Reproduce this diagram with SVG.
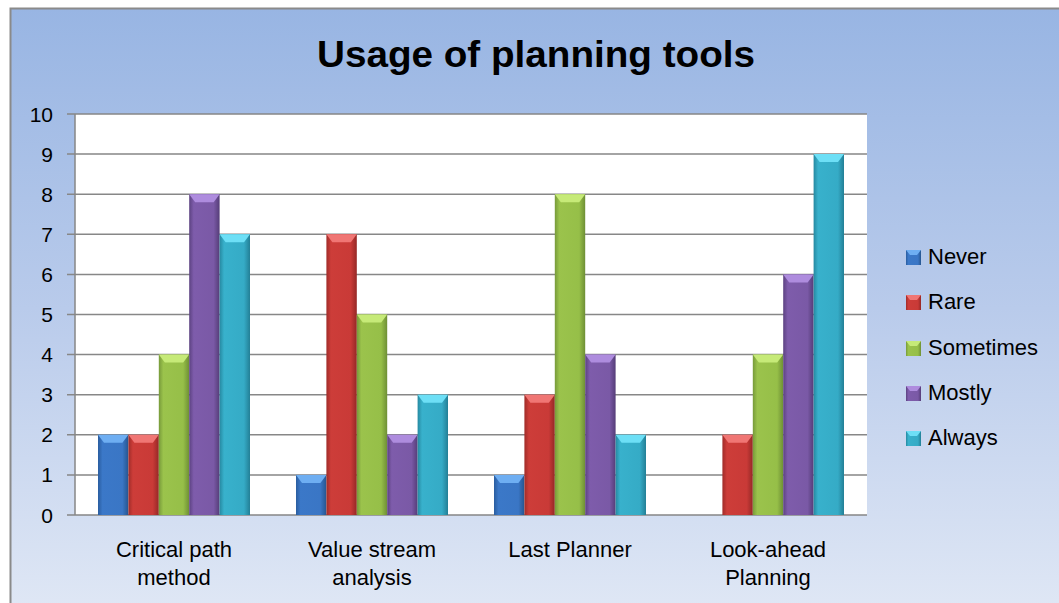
<svg xmlns="http://www.w3.org/2000/svg" width="1059" height="603" viewBox="0 0 1059 603">
<defs>
<linearGradient id="bg" x1="0" y1="0" x2="0" y2="1">
<stop offset="0" stop-color="#98b5e3"/><stop offset="0.5" stop-color="#b9cbeb"/><stop offset="1" stop-color="#dfe7f5"/>
</linearGradient>
<linearGradient id="gB" x1="0" y1="0" x2="1" y2="0"><stop offset="0" stop-color="#2a5d9f"/><stop offset="0.15" stop-color="#3b78c8"/><stop offset="0.8" stop-color="#3a76c5"/><stop offset="1" stop-color="#26558f"/></linearGradient>
<linearGradient id="gR" x1="0" y1="0" x2="1" y2="0"><stop offset="0" stop-color="#a02c29"/><stop offset="0.15" stop-color="#cd3d39"/><stop offset="0.8" stop-color="#c93a37"/><stop offset="1" stop-color="#952826"/></linearGradient>
<linearGradient id="gG" x1="0" y1="0" x2="1" y2="0"><stop offset="0" stop-color="#779a3a"/><stop offset="0.15" stop-color="#9bc34c"/><stop offset="0.8" stop-color="#96bf48"/><stop offset="1" stop-color="#6e8f35"/></linearGradient>
<linearGradient id="gP" x1="0" y1="0" x2="1" y2="0"><stop offset="0" stop-color="#5c4281"/><stop offset="0.15" stop-color="#7e5cab"/><stop offset="0.8" stop-color="#7a59a6"/><stop offset="1" stop-color="#553d78"/></linearGradient>
<linearGradient id="gC" x1="0" y1="0" x2="1" y2="0"><stop offset="0" stop-color="#2689a1"/><stop offset="0.15" stop-color="#38b1cc"/><stop offset="0.8" stop-color="#35abc6"/><stop offset="1" stop-color="#237f96"/></linearGradient>
<style>
.grid{stroke:#878787;stroke-width:1.5;fill:none}
.ax{font-family:"Liberation Sans",Arial,sans-serif;font-size:21px;fill:#000;text-anchor:end}
.cat{font-family:"Liberation Sans",Arial,sans-serif;font-size:22px;fill:#000;text-anchor:middle}
.leg{font-family:"Liberation Sans",Arial,sans-serif;font-size:22px;fill:#000}
.title{font-family:"Liberation Sans",Arial,sans-serif;font-size:37px;font-weight:bold;fill:#000;text-anchor:middle}
.b{fill:url(#gB)} .r{fill:url(#gR)} .g{fill:url(#gG)} .p{fill:url(#gP)} .c{fill:url(#gC)}
.tb{fill:#6eaef2} .tr{fill:#f07674} .tg{fill:#c6ea78} .tp{fill:#ae8cde} .tc{fill:#6ddff6}
</style>
</defs>
<rect x="0" y="0" width="1059" height="603" fill="#ffffff"/>
<rect x="10.5" y="8.5" width="1050" height="600" fill="url(#bg)" stroke="#8a8a8a" stroke-width="2"/>
<g id="title"><text class="title" x="536" y="67" textLength="438" lengthAdjust="spacingAndGlyphs">Usage of planning tools</text></g>
<g id="plot">
<rect x="75" y="114" width="792" height="401" fill="#ffffff"/>
<path class="grid" d="M67 114H867M67 154.1H867M67 194.2H867M67 234.3H867M67 274.4H867M67 314.5H867M67 354.6H867M67 394.7H867M67 434.8H867M67 474.9H867M67 515H867M75 114V515"/>
</g>
<g id="yaxis">
<text class="ax" x="53" y="122">10</text>
<text class="ax" x="53" y="162">9</text>
<text class="ax" x="53" y="202">8</text>
<text class="ax" x="53" y="242">7</text>
<text class="ax" x="53" y="282">6</text>
<text class="ax" x="53" y="322">5</text>
<text class="ax" x="53" y="362">4</text>
<text class="ax" x="53" y="402">3</text>
<text class="ax" x="53" y="442">2</text>
<text class="ax" x="53" y="482">1</text>
<text class="ax" x="53" y="523">0</text>
</g>
<g id="series-never">
<rect class="b" x="98" y="434.8" width="30.4" height="80.2"/><polygon class="tb" points="98,434.8 128.4,434.8 122.4,442.8 104,442.8"/>
<rect class="b" x="296" y="474.9" width="30.4" height="40.1"/><polygon class="tb" points="296,474.9 326.4,474.9 320.4,482.9 302,482.9"/>
<rect class="b" x="494" y="474.9" width="30.4" height="40.1"/><polygon class="tb" points="494,474.9 524.4,474.9 518.4,482.9 500,482.9"/>
</g>
<g id="series-rare">
<rect class="r" x="128.4" y="434.8" width="30.4" height="80.2"/><polygon class="tr" points="128.4,434.8 158.8,434.8 152.8,442.8 134.4,442.8"/>
<rect class="r" x="326.4" y="234.3" width="30.4" height="280.7"/><polygon class="tr" points="326.4,234.3 356.8,234.3 350.8,242.3 332.4,242.3"/>
<rect class="r" x="524.4" y="394.7" width="30.4" height="120.3"/><polygon class="tr" points="524.4,394.7 554.8,394.7 548.8,402.7 530.4,402.7"/>
<rect class="r" x="722.4" y="434.8" width="30.4" height="80.2"/><polygon class="tr" points="722.4,434.8 752.8,434.8 746.8,442.8 728.4,442.8"/>
</g>
<g id="series-sometimes">
<rect class="g" x="158.8" y="354.6" width="30.4" height="160.4"/><polygon class="tg" points="158.8,354.6 189.2,354.6 183.2,362.6 164.8,362.6"/>
<rect class="g" x="356.8" y="314.5" width="30.4" height="200.5"/><polygon class="tg" points="356.8,314.5 387.2,314.5 381.2,322.5 362.8,322.5"/>
<rect class="g" x="554.8" y="194.2" width="30.4" height="320.8"/><polygon class="tg" points="554.8,194.2 585.2,194.2 579.2,202.2 560.8,202.2"/>
<rect class="g" x="752.8" y="354.6" width="30.4" height="160.4"/><polygon class="tg" points="752.8,354.6 783.2,354.6 777.2,362.6 758.8,362.6"/>
</g>
<g id="series-mostly">
<rect class="p" x="189.2" y="194.2" width="30.4" height="320.8"/><polygon class="tp" points="189.2,194.2 219.6,194.2 213.6,202.2 195.2,202.2"/>
<rect class="p" x="387.2" y="434.8" width="30.4" height="80.2"/><polygon class="tp" points="387.2,434.8 417.6,434.8 411.6,442.8 393.2,442.8"/>
<rect class="p" x="585.2" y="354.6" width="30.4" height="160.4"/><polygon class="tp" points="585.2,354.6 615.6,354.6 609.6,362.6 591.2,362.6"/>
<rect class="p" x="783.2" y="274.4" width="30.4" height="240.6"/><polygon class="tp" points="783.2,274.4 813.6,274.4 807.6,282.4 789.2,282.4"/>
</g>
<g id="series-always">
<rect class="c" x="219.6" y="234.3" width="30.4" height="280.7"/><polygon class="tc" points="219.6,234.3 250,234.3 244,242.3 225.6,242.3"/>
<rect class="c" x="417.6" y="394.7" width="30.4" height="120.3"/><polygon class="tc" points="417.6,394.7 448,394.7 442,402.7 423.6,402.7"/>
<rect class="c" x="615.6" y="434.8" width="30.4" height="80.2"/><polygon class="tc" points="615.6,434.8 646,434.8 640,442.8 621.6,442.8"/>
<rect class="c" x="813.6" y="154.1" width="30.4" height="360.9"/><polygon class="tc" points="813.6,154.1 844,154.1 838,162.1 819.6,162.1"/>
</g>
<g id="categories">
<text class="cat" x="174" y="557">Critical path</text><text class="cat" x="174" y="585">method</text>
<text class="cat" x="372" y="557">Value stream</text><text class="cat" x="372" y="585">analysis</text>
<text class="cat" x="570" y="557">Last Planner</text>
<text class="cat" x="768" y="557">Look-ahead</text><text class="cat" x="768" y="585">Planning</text>
</g>
<g id="legend">
<rect class="b" x="906" y="250" width="15" height="15"/><polygon class="tb" points="906,250 921,250 917,255 910,255"/><text class="leg" x="928" y="264">Never</text>
<rect class="r" x="906" y="295" width="15" height="15"/><polygon class="tr" points="906,295 921,295 917,300 910,300"/><text class="leg" x="928" y="309">Rare</text>
<rect class="g" x="906" y="341" width="15" height="15"/><polygon class="tg" points="906,341 921,341 917,346 910,346"/><text class="leg" x="928" y="355">Sometimes</text>
<rect class="p" x="906" y="386" width="15" height="15"/><polygon class="tp" points="906,386 921,386 917,391 910,391"/><text class="leg" x="928" y="400">Mostly</text>
<rect class="c" x="906" y="431" width="15" height="15"/><polygon class="tc" points="906,431 921,431 917,436 910,436"/><text class="leg" x="928" y="445">Always</text>
</g>
</svg>
